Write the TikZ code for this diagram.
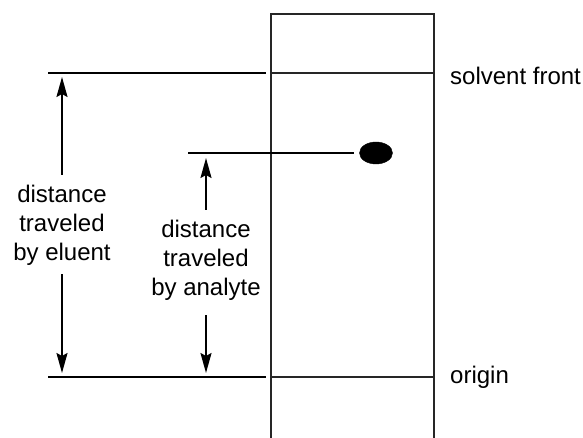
\documentclass[tikz,border=0pt]{standalone}
\usepackage{fontspec}
\setmainfont{Liberation Sans}
\usetikzlibrary{arrows.meta,shapes.geometric}
\begin{document}
\begin{tikzpicture}[x=1pt,y=-1pt,
  guide/.style={line width=2pt,black},
  plate/.style={line width=2.6pt,draw=black!85},
  dimarrow/.style={line width=2pt,-{Stealth[length=20pt,width=11pt,inset=3pt]}},
  lbl/.style={font=\fontsize{24}{29}\selectfont,align=center,inner sep=0pt},
  side/.style={font=\fontsize{24}{29}\selectfont,anchor=west,inner sep=0pt}]
\useasboundingbox (0,0) rectangle (583,438);
% plate
\coordinate (ptl) at (271,14);
\coordinate (ptr) at (434,14);
\coordinate (pbl) at (271,438);
\coordinate (pbr) at (434,438);
\draw[plate] (pbl) -- (ptl) -- (ptr) -- (pbr);
\coordinate (sfl) at (271,73);
\coordinate (sfr) at (434,73);
\coordinate (orl) at (271,377);
\coordinate (orr) at (434,377);
\draw[plate] (sfl) -- (sfr);
\draw[plate] (orl) -- (orr);
% guide lines
\coordinate (g1a) at (48,73);
\coordinate (g1b) at (266,73);
\coordinate (g2a) at (48,377);
\coordinate (g2b) at (266,377);
\coordinate (g3a) at (188,153);
\coordinate (g3b) at (354,153);
\draw[guide] (g1a) -- (g1b);
\draw[guide] (g2a) -- (g2b);
\draw[guide] (g3a) -- (g3b);
% spot
\node[draw=black,fill=black,ellipse,minimum width=33pt,minimum height=22pt,inner sep=0pt] (spot) at (376,153) {};
% eluent label
\node[lbl] (el) at (62,225) {distance\\traveled\\by eluent};
\coordinate (e1) at (62,175);
\coordinate (e1t) at (62,77);
\coordinate (e2) at (62,274);
\coordinate (e2t) at (62,373);
\draw[dimarrow] (e1) -- (e1t);
\draw[dimarrow] (e2) -- (e2t);
% analyte label
\node[lbl] (an) at (206,260) {distance\\traveled\\by analyte};
\coordinate (a1) at (206,210);
\coordinate (a1t) at (206,158);
\coordinate (a2) at (206,315);
\coordinate (a2t) at (206,373);
\draw[dimarrow] (a1) -- (a1t);
\draw[dimarrow] (a2) -- (a2t);
% side labels
\node[side] (sf) at (450,76) {solvent front};
\node[side] (og) at (450,377) {origin};
\end{tikzpicture}
\end{document}
